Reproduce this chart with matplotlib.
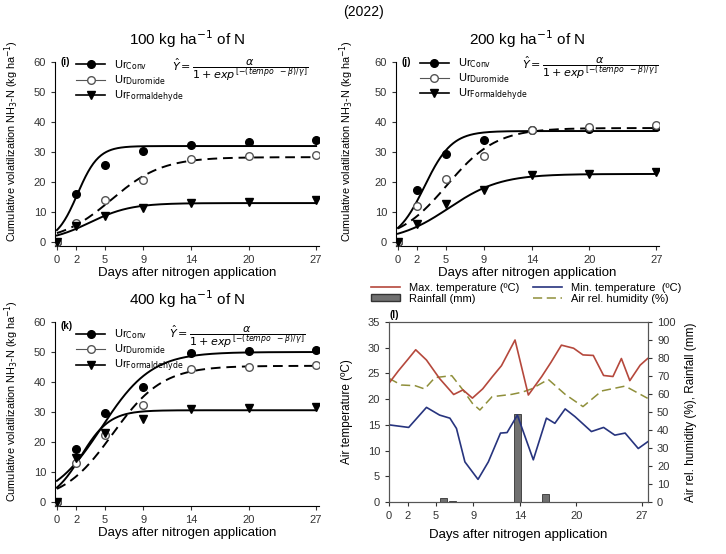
import matplotlib.pyplot as plt
import numpy as np
from matplotlib.lines import Line2D
from matplotlib.patches import Patch

plt.rcParams['font.family'] = ['Liberation Sans', 'DejaVu Sans']
plt.rcParams['mathtext.fontset'] = 'dejavusans'

# Datos: volatilizacion acumulada
days = [0, 2, 5, 9, 14, 20, 27]
day_ticks = [0, 2, 5, 9, 14, 20, 27]

conv_100 = [0, 16.1, 25.6, 30.3, 32.4, 33.3, 33.9]
duro_100 = [0, 6.4, 14.1, 20.6, 27.6, 28.6, 29.1]
form_100 = [0, 5.2, 8.6, 11.2, 13.0, 13.3, 13.9]

conv_200 = [0, 17.4, 29.2, 34.1, 37.4, 37.8, 38.3]
duro_200 = [0, 11.9, 20.9, 28.6, 37.5, 38.3, 38.9]
form_200 = [0, 5.9, 12.8, 17.2, 22.2, 22.8, 23.3]

conv_400 = [0, 17.7, 29.8, 38.4, 49.7, 50.3, 50.8]
duro_400 = [0, 13.0, 22.5, 32.3, 44.3, 45.1, 45.6]
form_400 = [0, 14.6, 22.9, 27.6, 30.9, 31.4, 31.8]

# parametros del modelo logistico (alpha, beta, gamma)
fit_100 = [(32.0, 2.14, 1.10), (28.3, 5.67, 2.66), (13.0, 3.41, 2.15)]
fit_200 = [(37.0, 2.77, 1.44), (38.0, 5.14, 2.57), (22.7, 5.32, 2.71)]
fit_400 = [(50.0, 4.68, 2.60), (45.4, 5.80, 2.60), (30.6, 2.50, 1.50)]

# Datos meteorologicos
tmax_day = [0, 1, 2, 2.85, 4, 5.4, 6.9, 7.9, 8.9, 10, 11, 12, 13.45, 14.87, 16.3,
            17.3, 18.4, 19.7, 20.7, 21.8, 22.9, 23.9, 24.8, 25.7, 26.8, 27.6]
tmax = [23.1, 25.5, 27.7, 29.6, 27.6, 24.0, 20.9, 21.8, 20.2, 22.0, 24.3, 26.5, 31.5,
        20.8, 24.4, 27.2, 30.5, 29.9, 28.6, 28.5, 24.6, 24.4, 27.9, 23.6, 26.6, 27.9]

tmin_day = [0, 2.1, 4.0, 5.4, 6.5, 7.2, 8.1, 9.5, 10.6, 11.9, 12.6, 13.7, 15.4, 16.8,
            17.7, 18.8, 19.85, 21.6, 22.9, 24.1, 25.2, 26.6, 27.6]
tmin = [15.0, 14.5, 18.4, 16.9, 16.3, 14.3, 7.8, 4.4, 7.8, 13.4, 13.5, 16.9, 8.2, 16.3,
        15.3, 18.1, 16.6, 13.7, 14.5, 13.0, 13.4, 10.4, 11.7]

hum_day = [0, 1.3, 2.8, 3.8, 4.9, 6.7, 7.9, 8.9, 9.7, 11, 13.1, 14.2, 15.2, 17, 18.8,
           20.7, 22.7, 25.2, 27.6]
hum = [68.7, 65.0, 64.6, 62.8, 69.1, 70.2, 62.2, 54.8, 51.1, 58.5, 59.8, 61.0, 62.8,
       68.1, 59.8, 53.0, 61.7, 64.4, 57.6]

rain_day = [5.8, 6.8, 13.7, 16.7]
rain = [2.4, 0.3, 49.0, 4.4]

W, H = 726, 554
fig = plt.figure(figsize=(W / 100, H / 100), dpi=100)


def box(l, r, t, b):
    return [l / W, 1 - b / H, (r - l) / W, (b - t) / H]


ecuacion = r'$\hat{Y}=\dfrac{\alpha}{1+exp^{\,[-(tempo\ \ -\beta)/\gamma]}}$'
ylab = r'Cumulative volatilization NH$_3$-N (kg ha$^{-1}$)'
xlab = 'Days after nitrogen application'
tcol = '#333333'


def panel(rect, conv, duro, form, fits, title, tag, tag_y, leg_anchor, eq_pos, ylab_x):
    ax = fig.add_axes(rect)
    t = np.linspace(0, 27, 300)
    styles = ['-', (0, (5, 3)), '-']
    for (a, b, g), ls in zip(fits, styles):
        ax.plot(t, a / (1 + np.exp(-(t - b) / g)), color='black', ls=ls, lw=1.4)
    ax.plot(days, conv, 'o', color='black', ms=5.5, ls='none', zorder=4)
    ax.plot(days, duro, 'o', mfc='white', mec='#555555', ms=5.5, ls='none', zorder=5)
    ax.plot(days, form, 'v', color='black', ms=5.5, ls='none', zorder=6)
    ax.set_xlim(-0.2, 27.3)
    ax.set_ylim(-1.3, 60)
    ax.set_xticks(day_ticks)
    ax.set_yticks(range(0, 61, 10))
    ax.tick_params(labelsize=8, colors=tcol, length=3)
    for s in ['top', 'right']:
        ax.spines[s].set_visible(False)
    ax.set_title(title, fontsize=11, pad=12)
    ax.text(0.02, tag_y, tag, transform=ax.transAxes, fontsize=7, fontweight='bold', va='center')
    handles = [Line2D([], [], color='black', marker='o', ms=5.5, lw=1.2),
               Line2D([], [], color='#555555', marker='o', mfc='white', ms=5.5, lw=0.8),
               Line2D([], [], color='black', marker='v', ms=5.5, lw=1.2)]
    labels = [r'Ur$_{\mathrm{Conv}}$', r'Ur$_{\mathrm{Duromide}}$', r'Ur$_{\mathrm{Formaldehyde}}$']
    ax.legend(handles, labels, loc='upper left', bbox_to_anchor=leg_anchor, frameon=False,
              fontsize=8, handlelength=2.6, labelspacing=0.12, borderpad=0, handletextpad=0.8)
    ax.text(eq_pos[0], eq_pos[1], ecuacion, transform=ax.transAxes, fontsize=8,
            ha='center', va='center')
    ax.set_xlabel(xlab, fontsize=9.5)
    ax.xaxis.set_label_coords(0.5, -0.115)
    ax.set_ylabel(ylab, fontsize=7.8)
    ax.yaxis.set_label_coords(ylab_x, 0.57)
    return ax


panel(box(55, 319, 62, 246), conv_100, duro_100, form_100, fit_100,
      r'100 kg ha$^{-1}$ of N', '(i)', 1.0, (0.06, 1.05), (0.70, 0.96), -0.127)
panel(box(396, 659, 62, 246), conv_200, duro_200, form_200, fit_200,
      r'200 kg ha$^{-1}$ of N', '(j)', 1.0, (0.07, 1.06), (0.74, 0.97), -0.152)
panel(box(55, 319, 322, 506), conv_400, duro_400, form_400, fit_400,
      r'400 kg ha$^{-1}$ of N', '(k)', 0.98, (0.06, 1.0), (0.69, 0.92), -0.127)

# Panel (l): clima
axl = fig.add_axes(box(389, 648, 322, 502))
axr = axl.twinx()
axr.bar(rain_day, rain, width=0.7, color='#707070', edgecolor='#333333', lw=0.6, zorder=1)
axl.set_zorder(axr.get_zorder() + 1)
axl.patch.set_visible(False)
axl.plot(tmax_day, tmax, color='#b5483c', lw=1.2)
axl.plot(tmin_day, tmin, color='#27347e', lw=1.2)
axr.plot(hum_day, hum, color='#8f8f3a', lw=1.1, ls=(0, (6, 3)))
axl.set_xlim(0, 27.64)
axl.set_ylim(0, 35)
axr.set_ylim(0, 100)
axl.set_xticks(day_ticks)
axl.set_yticks(range(0, 36, 5))
axr.set_yticks(range(0, 101, 10))
axl.tick_params(labelsize=8, colors=tcol, length=3)
axr.tick_params(labelsize=8, colors=tcol, length=3)
for a in (axl, axr):
    for s in a.spines.values():
        s.set_color('#555555')
axl.set_xlabel(xlab, fontsize=9.5)
axl.xaxis.set_label_coords(0.5, -0.15)
axl.set_ylabel('Air temperature (ºC)', fontsize=8.5)
axl.yaxis.set_label_coords(-0.139, 0.5)
axr.set_ylabel('Air rel. humidity (%), Rainfall (mm)', fontsize=8.5)
axr.yaxis.set_label_coords(1.143, 0.5)
axl.text(0.0, 1.01, '(l)', transform=axl.transAxes, fontsize=7, fontweight='bold', va='bottom')

wh = [Line2D([], [], color='#b5483c', lw=1.2),
      Patch(facecolor='#707070', edgecolor='#333333'),
      Line2D([], [], color='#27347e', lw=1.2),
      Line2D([], [], color='#8f8f3a', lw=1.1, ls=(0, (6, 3)))]
wl = ['Max. temperature (ºC)', 'Rainfall (mm)', 'Min. temperature  (ºC)', 'Air rel. humidity (%)']
axl.legend(wh, wl, ncol=2, loc='lower left', bbox_to_anchor=(-0.09, 1.07), frameon=False,
           fontsize=8, handlelength=2.6, labelspacing=0.1, columnspacing=1.2,
           borderpad=0, handletextpad=0.8, handleheight=0.6)

fig.text(0.5, 1 - 12 / H, '(2022)', ha='center', va='center', fontsize=10)

fig.savefig('out.png', dpi=100)
